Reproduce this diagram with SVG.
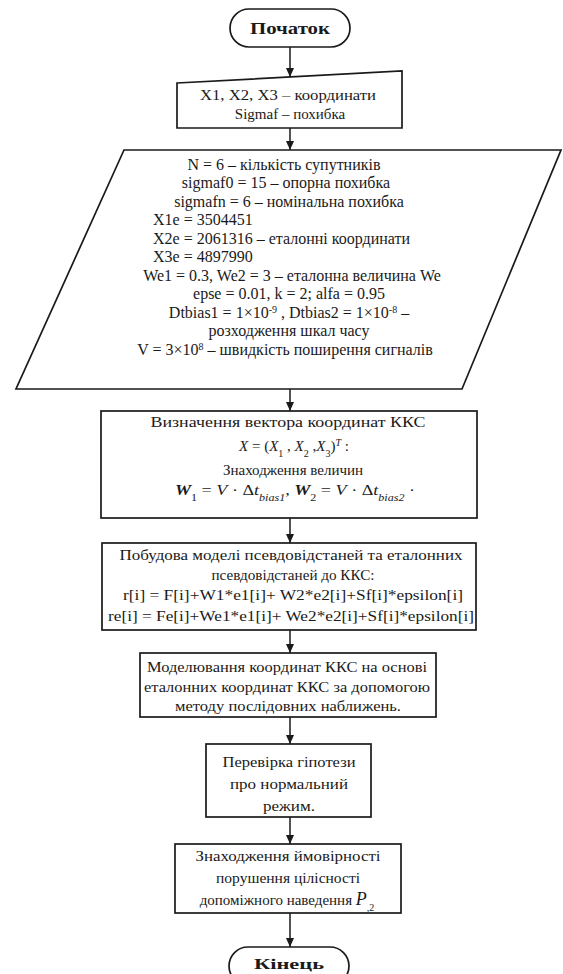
<svg xmlns="http://www.w3.org/2000/svg" width="563" height="974" viewBox="0 0 563 974">
<style>
.shape{fill:#ffffff;stroke:#1a1a1a;stroke-width:1.7}
.conn{stroke:#1a1a1a;stroke-width:1.5;fill:none}
text{font-family:"Liberation Serif","Times New Roman",serif;fill:#1a1a1a;font-size:15px;text-anchor:middle}
.p{font-size:16px}
.l{text-anchor:start}
.it{font-style:italic}
.b{font-weight:bold;font-size:17px}
.sub{font-size:10px}
</style>
<defs>
<marker id="ah" markerUnits="userSpaceOnUse" markerWidth="10" markerHeight="10" refX="9" refY="4" orient="auto">
<path d="M0,0 L9,4 L0,8 z" fill="#1a1a1a"/>
</marker>
</defs>
<rect x="0" y="0" width="563" height="974" fill="#ffffff"/>
<g id="connectors">
<line class="conn" x1="290" y1="47" x2="290" y2="77" marker-end="url(#ah)"/>
<line class="conn" x1="290" y1="128" x2="290" y2="150" marker-end="url(#ah)"/>
<line class="conn" x1="290" y1="389" x2="290" y2="411" marker-end="url(#ah)"/>
<line class="conn" x1="290" y1="518" x2="290" y2="543" marker-end="url(#ah)"/>
<line class="conn" x1="290" y1="630" x2="290" y2="653" marker-end="url(#ah)"/>
<line class="conn" x1="290" y1="717" x2="290" y2="744" marker-end="url(#ah)"/>
<line class="conn" x1="290" y1="817" x2="290" y2="844" marker-end="url(#ah)"/>
<line class="conn" x1="290" y1="913" x2="290" y2="947" marker-end="url(#ah)"/>
</g>
<g id="start">
<rect class="shape" x="230" y="9" width="120" height="38" rx="19"/>
<text class="b" x="290" y="34" textLength="80" lengthAdjust="spacingAndGlyphs">Початок</text>
</g>
<g id="input1">
<polygon class="shape" points="177,83 402,71 402,128 177,128"/>
<text x="288" y="100" textLength="176" lengthAdjust="spacingAndGlyphs">X1, X2, X3 – координати</text>
<text x="290" y="119">Sigmaf – похибка</text>
</g>
<g id="params">
<polygon class="shape" points="124,150 561,150 462,389 16,389"/>
<text class="p" x="284" y="170">N = 6 – кількість супутників</text>
<text class="p" x="286" y="188">sigmaf0 = 15 – опорна похибка</text>
<text class="p" x="289" y="207">sigmafn = 6 – номінальна похибка</text>
<text class="p l" x="153" y="225">X1e = 3504451</text>
<text class="p l" x="153" y="244">X2e = 2061316 – еталонні координати</text>
<text class="p l" x="153" y="262">X3e = 4897990</text>
<text class="p" x="292" y="281">We1 = 0.3, We2 = 3 – еталонна величина We</text>
<text class="p" x="289" y="299">epse = 0.01, k = 2; alfa = 0.95</text>
<text class="p" x="289" y="318">Dtbias1 = 1×10<tspan class="sub" baseline-shift="super">-9</tspan> , Dtbias2 = 1×10<tspan class="sub" baseline-shift="super">-8</tspan> –</text>
<text class="p" x="289" y="336">розходження шкал часу</text>
<text class="p" x="285" y="355">V =  3×10<tspan class="sub" baseline-shift="super">8</tspan> – швидкість поширення сигналів</text>
</g>
<g id="vector">
<rect class="shape" x="101" y="411" width="376" height="107"/>
<text x="288" y="427" textLength="275" lengthAdjust="spacingAndGlyphs">Визначення вектора координат ККС</text>
<text x="294" y="451" font-size="17"><tspan class="it">X</tspan> = (<tspan class="it">X</tspan><tspan class="sub" baseline-shift="sub">1</tspan> , <tspan class="it">X</tspan><tspan class="sub" baseline-shift="sub">2</tspan> ,<tspan class="it">X</tspan><tspan class="sub" baseline-shift="sub">3</tspan>)<tspan class="sub it" baseline-shift="super">T</tspan> :</text>
<text x="293" y="475" font-size="14">Знаходження величин</text>
<text x="295" y="495" font-size="17" textLength="240" lengthAdjust="spacingAndGlyphs"><tspan class="it" font-weight="bold">W</tspan><tspan class="sub" baseline-shift="sub">1</tspan> = <tspan class="it">V</tspan> · Δ<tspan class="it">t</tspan><tspan class="sub it" baseline-shift="sub">bias1</tspan>, <tspan class="it" font-weight="bold">W</tspan><tspan class="sub" baseline-shift="sub">2</tspan> = <tspan class="it">V</tspan> · Δ<tspan class="it">t</tspan><tspan class="sub it" baseline-shift="sub">bias2</tspan> ·</text>
</g>
<g id="model">
<rect class="shape" x="102" y="543" width="374" height="87"/>
<text x="291" y="560" textLength="343" lengthAdjust="spacingAndGlyphs">Побудова моделі псевдовідстаней та еталонних</text>
<text x="293" y="580" textLength="163" lengthAdjust="spacingAndGlyphs">псевдовідстаней до ККС:</text>
<text x="293" y="600" textLength="340" lengthAdjust="spacingAndGlyphs">r[i] = F[i]+W1*e1[i]+ W2*e2[i]+Sf[i]*epsilon[i]</text>
<text x="291" y="621" textLength="366" lengthAdjust="spacingAndGlyphs">re[i] = Fe[i]+We1*e1[i]+ We2*e2[i]+Sf[i]*epsilon[i]</text>
</g>
<g id="simulate">
<rect class="shape" x="140" y="653" width="296" height="64"/>
<text x="287" y="672" textLength="280" lengthAdjust="spacingAndGlyphs">Моделювання координат ККС на основі</text>
<text x="287" y="692" textLength="286" lengthAdjust="spacingAndGlyphs">еталонних координат ККС за допомогою</text>
<text x="288" y="711" textLength="226" lengthAdjust="spacingAndGlyphs">методу послідовних наближень.</text>
</g>
<g id="hypothesis">
<rect class="shape" x="206" y="744" width="165" height="73"/>
<text x="289" y="767" textLength="133" lengthAdjust="spacingAndGlyphs">Перевірка гіпотези</text>
<text x="289" y="789" textLength="118" lengthAdjust="spacingAndGlyphs">про нормальний</text>
<text x="289" y="811" textLength="52" lengthAdjust="spacingAndGlyphs">режим.</text>
</g>
<g id="probability">
<rect class="shape" x="175" y="844" width="226" height="69"/>
<text x="288" y="861" textLength="185" lengthAdjust="spacingAndGlyphs">Знаходження ймовірності</text>
<text x="288" y="883" textLength="144" lengthAdjust="spacingAndGlyphs">порушення цілісності</text>
<text x="287" y="905">допоміжного наведення <tspan class="it" font-size="18">P</tspan><tspan class="sub" baseline-shift="sub">,2</tspan></text>
</g>
<g id="end">
<rect class="shape" x="229" y="947" width="120" height="38" rx="19"/>
<text x="289" y="969" font-size="17" font-weight="bold" textLength="70" lengthAdjust="spacingAndGlyphs">Кінець</text>
</g>
</svg>
